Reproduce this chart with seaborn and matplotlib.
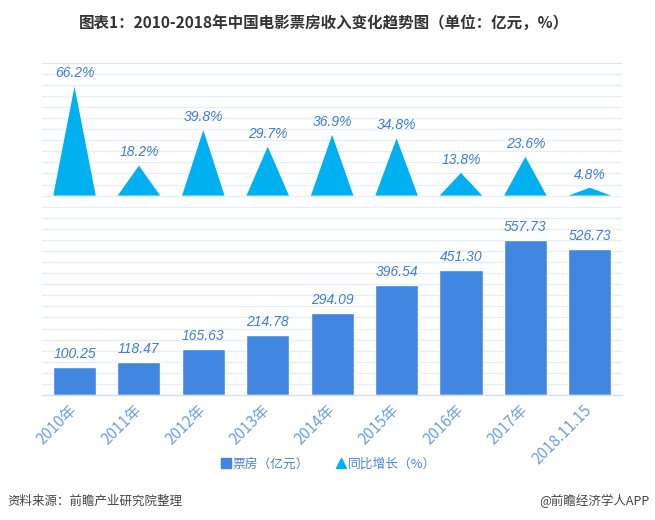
import matplotlib
matplotlib.use("Agg")
import matplotlib.pyplot as plt
import seaborn as sns
import numpy as np
from matplotlib.lines import Line2D

categories = ["2010年", "2011年", "2012年", "2013年", "2014年", "2015年", "2016年", "2017年", "2018.11.15"]
box_office = [100.25, 118.47, 165.63, 214.78, 294.09, 396.54, 451.30, 557.73, 526.73]
growth = [66.2, 18.2, 39.8, 29.7, 36.9, 34.8, 13.8, 23.6, 4.8]
box_labels = ["100.25", "118.47", "165.63", "214.78", "294.09", "396.54", "451.30", "557.73", "526.73"]
growth_labels = ["66.2%", "18.2%", "39.8%", "29.7%", "36.9%", "34.8%", "13.8%", "23.6%", "4.8%"]

sns.set_style("white")
plt.rcParams['font.family'] = ['Noto Sans CJK SC', 'DejaVu Sans']

W, H = 655, 520
fig = plt.figure(figsize=(W / 100, H / 100), dpi=100)

def rect(x0, y0, x1, y1):
    return [x0 / W, 1 - y1 / H, (x1 - x0) / W, (y1 - y0) / H]

XL, XR = 42.3, 622.0
YT, YM, YB = 62.7, 195.6, 395.0

BAR_C = "#4186e0"
TRI_C = "#00b0f0"
VAL_C = "#3f7cd9"
TICK_C = "#6b9fe8"
GRID_C = "#e4edf8"

# background grid
bg = fig.add_axes(rect(XL, YT, XR, YB))
bg.set_xlim(0, 1)
bg.set_ylim(0, 1)
for k, yy in enumerate(np.linspace(0, 1, 31)):
    bg.axhline(yy, color="#d9e5f5" if k == 30 else GRID_C, lw=0.9, zorder=0)
bg.axis("off")

# top: growth triangles
top = fig.add_axes(rect(XL, YT, XR, YM))
top.patch.set_alpha(0)
top.set_xlim(-0.5, len(categories) - 0.5)
top.set_ylim(0, (YM - YT) / 1.646)
w = 0.66
for i, v in enumerate(growth):
    top.fill([i - w / 2, i, i + w / 2], [0, v, 0], color=TRI_C, lw=0, zorder=2)
    top.annotate(growth_labels[i], (i, v), xytext=(0, 9.5), textcoords="offset points",
                 ha="center", va="center", fontsize=10, color=VAL_C,
                 family="Liberation Sans", style="italic")
top.axis("off")

# bottom: box office bars
bot = fig.add_axes(rect(XL, YM, XR, YB))
bot.patch.set_alpha(0)
sns.barplot(x=categories, y=box_office, color=BAR_C, saturation=1, width=0.67, ax=bot, zorder=2)
bot.set_xlim(-0.5, len(categories) - 0.5)
bot.set_ylim(0, (YB - YM) / 0.2775)
for i, v in enumerate(box_office):
    bot.annotate(box_labels[i], (i, v), xytext=(0, 9.5), textcoords="offset points",
                 ha="center", va="center", fontsize=10, color=VAL_C,
                 family="Liberation Sans", style="italic")
for s in ["top", "right", "left"]:
    bot.spines[s].set_visible(False)
bot.spines["bottom"].set_color("#d3e0f2")
bot.spines["bottom"].set_linewidth(1.0)
bot.set_yticks([])
bot.set_xticks(range(len(categories)))
bot.set_xticklabels(categories, rotation=45, ha="right", rotation_mode="anchor",
                    fontsize=11, color=TICK_C)
bot.tick_params(axis="x", length=0, pad=9)
bot.set_xticks(np.arange(-0.5, len(categories), 1.0), minor=True)
bot.tick_params(axis="x", which="minor", length=4, color="#d3e0f2", width=1.0)
for lab in bot.get_xticklabels():
    lab.set_va("center")
bot.set_xlabel("")
bot.set_ylabel("")

# legend
handles = [Line2D([], [], marker="s", color=BAR_C, ls="none", markersize=6.5),
           Line2D([], [], marker="^", color=TRI_C, ls="none", markersize=6.5)]
fig.legend(handles, ["票房（亿元）", "同比增长（%）"], loc="center",
           bbox_to_anchor=(329 / W, 1 - 464 / H), ncol=2, frameon=False,
           handlelength=0.6, handletextpad=0.2, columnspacing=2.2,
           fontsize=9.2, labelcolor="#4a82da")

# title
fig.text(324 / W, 1 - 23 / H, "图表1：2010-2018年中国电影票房收入变化趋势图（单位：亿元，%）",
         ha="center", va="center", fontsize=11.2, fontweight="bold", color="#333333")

# footer
fig.text(7 / W, 1 - 501 / H, "资料来源：前瞻产业研究院整理", ha="left", va="center",
         fontsize=9, color="#444444")
fig.text(650 / W, 1 - 501 / H, "@前瞻经济学人APP", ha="right", va="center",
         fontsize=9, color="#444444")

fig.savefig("out.png", dpi=100)
